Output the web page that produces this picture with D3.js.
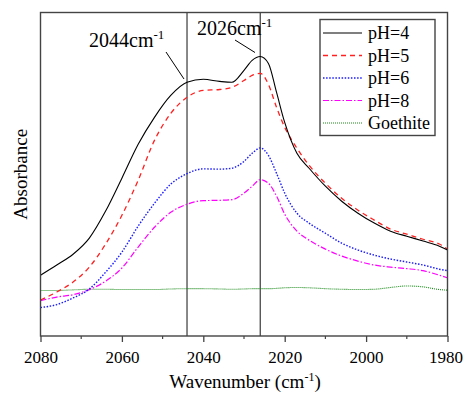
<!DOCTYPE html>
<html>
<head>
<meta charset="utf-8">
<script src="https://cdn.jsdelivr.net/npm/d3@7"></script>
<style>
  body { margin: 0; background: #fff; }
  svg text { font-family: "Liberation Serif", "Times New Roman", serif; fill: #000; }
</style>
</head>
<body>
<div id="chart"></div>
<script>
// wavenumbers (cm-1) the spectra were read at
const wavenumbers = [2080, 2076, 2072, 2068, 2064, 2060, 2056, 2052, 2048, 2044, 2040, 2036, 2033, 2030, 2028,
  2026, 2024, 2022, 2020, 2017, 2014, 2010, 2006, 2002, 1998, 1994, 1990, 1986, 1982, 1980];

const ph4 = [0.203, 0.237, 0.273, 0.327, 0.417, 0.527, 0.640, 0.730, 0.803, 0.847, 0.857, 0.850, 0.847, 0.887, 0.920,
  0.933, 0.910, 0.813, 0.713, 0.610, 0.560, 0.500, 0.450, 0.410, 0.377, 0.350, 0.333, 0.317, 0.300, 0.287];
const ph5 = [0.120, 0.147, 0.180, 0.230, 0.307, 0.403, 0.520, 0.653, 0.743, 0.797, 0.820, 0.823, 0.830, 0.853, 0.870,
  0.877, 0.840, 0.763, 0.697, 0.627, 0.570, 0.510, 0.460, 0.420, 0.387, 0.357, 0.340, 0.323, 0.307, 0.290];
const ph6 = [0.095, 0.105, 0.127, 0.157, 0.213, 0.280, 0.367, 0.443, 0.507, 0.542, 0.558, 0.557, 0.560, 0.583, 0.610,
  0.628, 0.603, 0.543, 0.477, 0.410, 0.377, 0.343, 0.310, 0.287, 0.270, 0.257, 0.247, 0.237, 0.223, 0.218];
const ph8 = [0.118, 0.130, 0.138, 0.155, 0.183, 0.227, 0.297, 0.363, 0.413, 0.440, 0.452, 0.453, 0.455, 0.477, 0.500,
  0.522, 0.510, 0.467, 0.407, 0.350, 0.320, 0.290, 0.267, 0.250, 0.237, 0.230, 0.225, 0.218, 0.203, 0.194];
const goethite = [0.152, 0.152, 0.154, 0.156, 0.156, 0.155, 0.155, 0.155, 0.157, 0.158, 0.158, 0.157, 0.156, 0.157, 0.158,
  0.158, 0.158, 0.159, 0.161, 0.162, 0.161, 0.158, 0.156, 0.155, 0.156, 0.162, 0.167, 0.164, 0.155, 0.153];

const seriesNames = ["pH=4", "pH=5", "pH=6", "pH=8", "Goethite"];
const xTicks = [2080, 2060, 2040, 2020, 2000, 1980];
const markers = [2044, 2026];

const width = 463, height = 394;
const margin = { top: 12.5, right: 15.5, bottom: 58, left: 40.5 };
const serif = "'Liberation Serif', 'Times New Roman', serif";

const styles = [
  { color: "#000000", dash: null, w: 1.1 },
  { color: "#ff2020", dash: "5,4", w: 1.3 },
  { color: "#1a1aff", dash: "1.5,1.6", w: 1.4 },
  { color: "#ff00ff", dash: "6,2,1.5,2", w: 1.2 },
  { color: "#1a8a1a", dash: "1,1", w: 1.1 }
];

const xScale = d3.scaleLinear().domain([2080, 1980]).range([margin.left, width - margin.right]);
const yScale = d3.scaleLinear().domain([0, 1.08]).range([height - margin.bottom, margin.top]);

const svg = d3.select("#chart").append("svg")
  .attr("width", width)
  .attr("height", height);

const allSeries = [ph4, ph5, ph6, ph8, goethite];

const line = d3.line()
  .x(d => xScale(d[0]))
  .y(d => yScale(d[1]))
  .curve(d3.curveMonotoneX);

// marker lines
svg.selectAll(".marker").data(markers).enter().append("line")
  .attr("x1", d => xScale(d)).attr("x2", d => xScale(d))
  .attr("y1", margin.top).attr("y2", height - margin.bottom)
  .attr("stroke", "#555").attr("stroke-width", 1.4);

// draw back to front so the black curve sits on top
for (let i = allSeries.length - 1; i >= 0; i--) {
  const pts = wavenumbers.map((w, j) => [w, allSeries[i][j]]);
  svg.append("path").datum(pts)
    .attr("fill", "none")
    .attr("stroke", styles[i].color)
    .attr("stroke-width", styles[i].w)
    .attr("stroke-dasharray", styles[i].dash)
    .attr("d", line);
}

// frame
svg.append("rect")
  .attr("x", margin.left).attr("y", margin.top)
  .attr("width", width - margin.left - margin.right)
  .attr("height", height - margin.bottom - margin.top)
  .attr("fill", "none").attr("stroke", "#444").attr("stroke-width", 1.4);

// x axis
const xAxis = svg.append("g")
  .attr("transform", `translate(0,${height - margin.bottom})`)
  .call(d3.axisBottom(xScale).tickValues(xTicks).tickSize(6).tickPadding(9).tickFormat(d3.format("d")));
xAxis.attr("font-family", serif).attr("font-size", 17);
xAxis.select(".domain").remove();
xAxis.selectAll("line").attr("stroke", "#444").attr("stroke-width", 1.3);
xAxis.selectAll("text")
  .attr("font-family", serif)
  .style("font-family", serif)
  .style("font-size", "17px");
// last label sits against the right edge of the picture
xAxis.selectAll("text").filter(d => d === 1980)
  .attr("text-anchor", "end").attr("x", 15);

const minor = d3.range(2070, 1980, -20);
svg.selectAll(".minor").data(minor).enter().append("line")
  .attr("x1", d => xScale(d)).attr("x2", d => xScale(d))
  .attr("y1", height - margin.bottom).attr("y2", height - margin.bottom + 3)
  .attr("stroke", "#444").attr("stroke-width", 1.2);

// axis titles
const xt = svg.append("text")
  .attr("x", (margin.left + width - margin.right) / 2 + 1)
  .attr("y", 388)
  .attr("text-anchor", "middle")
  .style("font-size", "19px");
xt.append("tspan").text("Wavenumber (cm");
xt.append("tspan").attr("dy", -7).style("font-size", "12px").text("-1");
xt.append("tspan").attr("dy", 7).text(")");

svg.append("text")
  .attr("transform", `translate(27,${(margin.top + height - margin.bottom) / 2}) rotate(-90)`)
  .attr("text-anchor", "middle")
  .style("font-size", "19px")
  .text("Absorbance");

// peak annotations
const notes = [
  { label: "2044", tx: 89, ty: 47, from: [166, 52], to: [184, 79] },
  { label: "2026", tx: 197, ty: 35, from: [235, 40], to: [255, 52.5] }
];
notes.forEach(n => {
  const t = svg.append("text").attr("x", n.tx).attr("y", n.ty).style("font-size", "20px");
  t.append("tspan").text(n.label + "cm");
  t.append("tspan").attr("dy", -8).style("font-size", "13px").text("-1");
  svg.append("line")
    .attr("x1", n.from[0]).attr("y1", n.from[1])
    .attr("x2", n.to[0]).attr("y2", n.to[1])
    .attr("stroke", "#000").attr("stroke-width", 1);
});

// legend
const lg = svg.append("g").attr("transform", "translate(320,19.5)");
lg.append("rect").attr("width", 115).attr("height", 116)
  .attr("fill", "#fff").attr("stroke", "#444").attr("stroke-width", 1.4);
seriesNames.forEach((name, i) => {
  const y = 13.5 + i * 22.5;
  lg.append("line")
    .attr("x1", 3).attr("x2", 42).attr("y1", y).attr("y2", y)
    .attr("stroke", styles[i].color)
    .attr("stroke-width", styles[i].w)
    .attr("stroke-dasharray", styles[i].dash);
  lg.append("text").attr("x", 48).attr("y", y + 6)
    .style("font-size", "18px").text(name);
});
</script>
</body>
</html>
